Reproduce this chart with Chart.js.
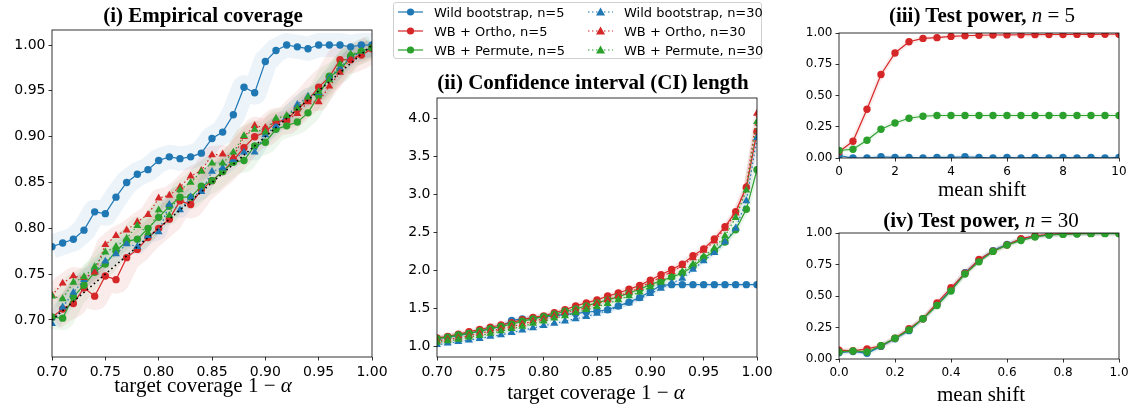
<!DOCTYPE html>
<html>
<head>
<meta charset="utf-8">
<script src="https://cdn.jsdelivr.net/npm/chart.js@4.4.0/dist/chart.umd.min.js"></script>
<style>
  body { margin: 0; background: #fff; }
  #wrap { position: relative; width: 1134px; height: 409px; overflow: hidden; }
  canvas { position: absolute; }
  .ttl { position: absolute; transform: translate(-50%, -50%); white-space: nowrap; color: #000;
         font-family: 'Liberation Serif', 'Times New Roman', serif; font-size: 21px; line-height: 1; }
  .ttl b { font-weight: bold; }
  .ttl i { font-style: italic; }
  #legend { position: absolute; left: 393px; top: 2px; width: 369px; height: 57px; box-sizing: border-box;
            border: 1px solid #d0d0d0; border-radius: 3px; background: rgba(255,255,255,0.85);
            font-family: 'DejaVu Sans', sans-serif; font-size: 13px; color: #000; }
  .lg { position: absolute; height: 18px; display: flex; align-items: center; white-space: nowrap; }
  .lg svg { margin-right: 11px; }
</style>
</head>
<body>
<div id="wrap">
  <canvas id="c1" width="392" height="409" style="left:0;top:0"></canvas>
  <canvas id="c2" width="397" height="409" style="left:380px;top:0"></canvas>
  <canvas id="c3" width="354" height="200" style="left:780px;top:0"></canvas>
  <canvas id="c4" width="354" height="209" style="left:780px;top:200px"></canvas>

  <div class="ttl" style="left:203px;top:15px"><b>(i) Empirical coverage</b></div>
  <div class="ttl" style="left:593px;top:82px"><b>(ii) Confidence interval (CI) length</b></div>
  <div class="ttl" style="left:982px;top:15px"><b>(iii) Test power,</b> <i>n</i> = 5</div>
  <div class="ttl" style="left:981px;top:220px"><b>(iv) Test power,</b> <i>n</i> = 30</div>
  <div class="ttl" style="left:203px;top:385px">target coverage 1 − <i>α</i></div>
  <div class="ttl" style="left:596px;top:392px">target coverage 1 − <i>α</i></div>
  <div class="ttl" style="left:982px;top:189px">mean shift</div>
  <div class="ttl" style="left:981px;top:394px">mean shift</div>
  <div id="legend"></div>
</div>
<script>
// x values (target coverage) shared by panels (i) and (ii)
const coverage = [0.70, 0.71, 0.72, 0.73, 0.74, 0.75, 0.76, 0.77, 0.78, 0.79, 0.80,
                  0.81, 0.82, 0.83, 0.84, 0.85, 0.86, 0.87, 0.88, 0.89, 0.90,
                  0.91, 0.92, 0.93, 0.94, 0.95, 0.96, 0.97, 0.98, 0.99, 1.00];
const coverageTicks = [0.70, 0.75, 0.80, 0.85, 0.90, 0.95, 1.00];

// (i) empirical coverage
const covWild5     = [0.780, 0.784, 0.788, 0.798, 0.818, 0.816, 0.834, 0.850, 0.859, 0.864, 0.874,
                      0.878, 0.876, 0.878, 0.882, 0.898, 0.905, 0.924, 0.954, 0.948, 0.982,
                      0.994, 1.000, 0.998, 0.996, 1.000, 1.000, 1.000, 0.998, 1.000, 1.000];
const covOrtho5    = [0.703, 0.712, 0.718, 0.735, 0.726, 0.748, 0.744, 0.768, 0.777, 0.790, 0.800,
                      0.810, 0.830, 0.826, 0.842, 0.852, 0.862, 0.874, 0.888, 0.900, 0.905,
                      0.916, 0.918, 0.930, 0.940, 0.954, 0.965, 0.984, 0.984, 0.989, 0.996];
const covPermute5  = [0.703, 0.702, 0.725, 0.738, 0.752, 0.761, 0.775, 0.786, 0.788, 0.800, 0.812,
                      0.824, 0.834, 0.834, 0.846, 0.852, 0.862, 0.872, 0.874, 0.890, 0.894,
                      0.908, 0.912, 0.916, 0.926, 0.945, 0.966, 0.972, 0.988, 0.993, 0.997];
const covWild30    = [0.696, 0.714, 0.730, 0.744, 0.753, 0.764, 0.772, 0.783, 0.780, 0.792, 0.796,
                      0.826, 0.820, 0.834, 0.840, 0.862, 0.866, 0.875, 0.883, 0.883, 0.902,
                      0.912, 0.922, 0.935, 0.944, 0.948, 0.964, 0.975, 0.987, 0.992, 0.997];
const covOrtho30   = [0.727, 0.740, 0.748, 0.746, 0.752, 0.782, 0.792, 0.798, 0.807, 0.815, 0.833,
                      0.836, 0.845, 0.857, 0.863, 0.880, 0.881, 0.878, 0.900, 0.912, 0.910,
                      0.917, 0.918, 0.925, 0.938, 0.938, 0.955, 0.970, 0.985, 0.990, 0.997];
const covPermute30 = [0.726, 0.723, 0.741, 0.747, 0.758, 0.774, 0.780, 0.789, 0.803, 0.795, 0.820,
                      0.814, 0.842, 0.850, 0.862, 0.871, 0.871, 0.883, 0.901, 0.908, 0.905,
                      0.920, 0.923, 0.931, 0.943, 0.949, 0.962, 0.979, 0.990, 0.993, 0.997];

// (ii) CI length
const lenTicks     = [1.0, 1.5, 2.0, 2.5, 3.0, 3.5, 4.0];
const lenWild5     = [1.10, 1.12, 1.14, 1.17, 1.20, 1.23, 1.26, 1.34, 1.36, 1.37, 1.39,
                      1.40, 1.42, 1.43, 1.45, 1.46, 1.48, 1.53, 1.58, 1.64, 1.72,
                      1.80, 1.81, 1.81, 1.81, 1.81, 1.81, 1.81, 1.81, 1.81, 1.81];
const lenOrtho5    = [1.11, 1.13, 1.16, 1.19, 1.22, 1.25, 1.28, 1.31, 1.35, 1.38, 1.40,
                      1.44, 1.48, 1.53, 1.57, 1.61, 1.66, 1.70, 1.75, 1.80, 1.87,
                      1.94, 2.01, 2.08, 2.19, 2.28, 2.41, 2.57, 2.77, 3.09, 3.82];
const lenPermute5  = [1.10, 1.12, 1.15, 1.17, 1.20, 1.23, 1.26, 1.29, 1.33, 1.36, 1.39,
                      1.42, 1.46, 1.49, 1.53, 1.57, 1.61, 1.65, 1.70, 1.75, 1.81,
                      1.86, 1.91, 1.96, 2.05, 2.16, 2.25, 2.37, 2.53, 2.80, 3.32];
const lenWild30    = [1.02, 1.04, 1.06, 1.08, 1.10, 1.13, 1.15, 1.18, 1.21, 1.24, 1.27,
                      1.30, 1.33, 1.36, 1.39, 1.43, 1.47, 1.52, 1.57, 1.63, 1.69,
                      1.76, 1.83, 1.89, 2.01, 2.12, 2.23, 2.37, 2.55, 2.91, 3.74];
const lenOrtho30   = [1.07, 1.09, 1.11, 1.14, 1.17, 1.20, 1.23, 1.26, 1.29, 1.33, 1.36,
                      1.40, 1.44, 1.47, 1.51, 1.56, 1.61, 1.66, 1.71, 1.77, 1.84,
                      1.91, 1.98, 2.06, 2.16, 2.26, 2.38, 2.55, 2.75, 3.10, 4.06];
const lenPermute30 = [1.05, 1.07, 1.09, 1.12, 1.14, 1.17, 1.20, 1.23, 1.26, 1.30, 1.33,
                      1.37, 1.40, 1.44, 1.48, 1.52, 1.56, 1.61, 1.66, 1.71, 1.78,
                      1.84, 1.91, 1.98, 2.08, 2.18, 2.29, 2.45, 2.69, 3.05, 3.95];

// (iii) test power, n = 5
const shift5       = [0, 0.5, 1, 1.5, 2, 2.5, 3, 3.5, 4, 4.5, 5, 5.5, 6, 6.5, 7, 7.5, 8, 8.5, 9, 9.5, 10];
const shift5Ticks  = [0, 2, 4, 6, 8, 10];
const powWild5     = [0.02, 0.00, 0.00, 0.01, 0.005, 0.005, 0.00, 0.005, 0.005, 0.01, 0.005,
                      0.00, 0.005, 0.00, 0.005, 0.00, 0.005, 0.00, 0.005, 0.00, 0.005];
const powOrtho5    = [0.05, 0.134, 0.39, 0.668, 0.84, 0.93, 0.957, 0.963, 0.973, 0.978, 0.982,
                      0.984, 0.985, 0.986, 0.987, 0.988, 0.988, 0.989, 0.989, 0.990, 0.990];
const powPermute5  = [0.06, 0.07, 0.142, 0.23, 0.28, 0.318, 0.334, 0.34, 0.34, 0.34, 0.34,
                      0.34, 0.34, 0.34, 0.34, 0.34, 0.34, 0.34, 0.34, 0.34, 0.34];

// (iv) test power, n = 30
const shift30      = [0, 0.05, 0.1, 0.15, 0.2, 0.25, 0.3, 0.35, 0.4, 0.45, 0.5,
                      0.55, 0.6, 0.65, 0.7, 0.75, 0.8, 0.85, 0.9, 0.95, 1.0];
const shift30Ticks = [0, 0.2, 0.4, 0.6, 0.8, 1.0];
const powWild30    = [0.05, 0.06, 0.045, 0.10, 0.16, 0.225, 0.32, 0.43, 0.55, 0.685, 0.785,
                      0.86, 0.91, 0.95, 0.975, 0.985, 0.993, 0.995, 0.997, 0.998, 0.998];
const powOrtho30   = [0.07, 0.065, 0.08, 0.105, 0.165, 0.24, 0.32, 0.445, 0.565, 0.68, 0.79,
                      0.855, 0.905, 0.955, 0.978, 0.99, 0.995, 0.996, 0.997, 0.998, 0.998];
const powPermute30 = [0.056, 0.064, 0.056, 0.106, 0.165, 0.231, 0.319, 0.425, 0.54, 0.675, 0.771,
                      0.854, 0.904, 0.941, 0.968, 0.984, 0.989, 0.992, 0.995, 0.995, 0.995];
const powerTicks   = [0, 0.25, 0.5, 0.75, 1.0];

const BLUE = '#1f77b4', RED = '#d62728', GREEN = '#2ca02c';

const legendItems = [
  { label: 'Wild bootstrap, n=5',  color: BLUE,  n30: false },
  { label: 'WB + Ortho, n=5',      color: RED,   n30: false },
  { label: 'WB + Permute, n=5',    color: GREEN, n30: false },
  { label: 'Wild bootstrap, n=30', color: BLUE,  n30: true },
  { label: 'WB + Ortho, n=30',     color: RED,   n30: true },
  { label: 'WB + Permute, n=30',   color: GREEN, n30: true }
];

function pts(xs, ys) {
  return xs.map((x, i) => ({ x: x, y: ys[i] }));
}

function hexA(hex, a) {
  const n = parseInt(hex.slice(1), 16);
  return 'rgba(' + (n >> 16) + ',' + ((n >> 8) & 255) + ',' + (n & 255) + ',' + a + ')';
}

let orderCounter = 50;
// one line with markers, plus a wide faint stroke behind it for the shaded band
function series(xs, ys, color, n30, bandWidth) {
  const out = [];
  if (bandWidth) {
    out.push({
      data: pts(xs, ys), borderColor: hexA(color, 0.085), borderWidth: bandWidth,
      borderJoinStyle: 'round', borderCapStyle: 'butt', pointRadius: 0, fill: false,
      order: 200, clip: 0
    });
  }
  out.push({
    data: pts(xs, ys), borderColor: color, backgroundColor: color,
    borderWidth: 1.2, borderDash: n30 ? [1.5, 2.5] : [],
    pointStyle: n30 ? 'triangle' : 'circle', pointRadius: n30 ? 4.6 : 3.7,
    pointBorderWidth: 0, pointBorderColor: color, fill: false,
    order: orderCounter--, clip: 0
  });
  return out;
}

const framePlugin = {
  id: 'frame',
  afterDatasetsDraw(chart) {
    const a = chart.chartArea, ctx = chart.ctx;
    ctx.save();
    ctx.strokeStyle = '#000';
    ctx.lineWidth = 0.8;
    ctx.strokeRect(a.left, a.top, a.right - a.left, a.bottom - a.top);
    ctx.restore();
  }
};

function makeChart(id, datasets, o) {
  const axisStyle = (ticks, fmt, isY) => ({
    type: 'linear',
    min: isY ? o.ymin : o.xmin,
    max: isY ? o.ymax : o.xmax,
    afterBuildTicks: s => { s.ticks = ticks.map(v => ({ value: v })); },
    afterFit: s => { if (isY) s.width = o.yw; else s.height = o.xh; },
    grid: { display: true, drawOnChartArea: false, drawTicks: true, tickLength: 3.5,
            tickWidth: 0.8, tickColor: '#000' },
    border: { display: false },
    ticks: {
      autoSkip: false, maxRotation: 0, padding: 3, color: '#000',
      font: { family: 'DejaVu Sans', size: o.fs },
      callback: v => fmt(v)
    }
  });
  return new Chart(document.getElementById(id), {
    type: 'line',
    data: { datasets: datasets },
    options: {
      responsive: false,
      animation: false,
      layout: { padding: o.pad },
      plugins: { legend: { display: false }, tooltip: { enabled: false } },
      scales: {
        x: axisStyle(o.xticks, o.xfmt, false),
        y: axisStyle(o.yticks, o.yfmt, true)
      }
    },
    plugins: [framePlugin]
  });
}

const f2 = v => v.toFixed(2), f1 = v => v.toFixed(1), f0 = v => v.toFixed(0);

// panel (i)
orderCounter = 50;
const ds1 = [].concat(
  series(coverage, covWild5, BLUE, false, 24),
  series(coverage, covOrtho5, RED, false, 28),
  series(coverage, covPermute5, GREEN, false, 24),
  series(coverage, covWild30, BLUE, true, 16),
  series(coverage, covOrtho30, RED, true, 18),
  series(coverage, covPermute30, GREEN, true, 18)
);
ds1.push({
  data: [{ x: 0.70, y: 0.70 }, { x: 1.00, y: 1.00 }], borderColor: '#000', borderWidth: 1.6,
  borderDash: [1.6, 3], pointRadius: 0, fill: false, order: 0, clip: 0
});
makeChart('c1', ds1, {
  xmin: 0.70, xmax: 1.00, ymin: 0.6596, ymax: 1.0164, xticks: coverageTicks, yticks: coverageTicks,
  xfmt: f2, yfmt: f2, yw: 52, xh: 52, fs: 14, pad: { top: 30, right: 20, left: 0, bottom: 0 }
});

// panel (ii)
orderCounter = 50;
const ds2 = [].concat(
  series(coverage, lenWild5, BLUE, false, 6),
  series(coverage, lenOrtho5, RED, false, 6),
  series(coverage, lenPermute5, GREEN, false, 6),
  series(coverage, lenWild30, BLUE, true, 5),
  series(coverage, lenOrtho30, RED, true, 5),
  series(coverage, lenPermute30, GREEN, true, 5)
);
makeChart('c2', ds2, {
  xmin: 0.70, xmax: 1.00, ymin: 0.859, ymax: 4.263, xticks: coverageTicks, yticks: lenTicks,
  xfmt: f2, yfmt: f1, yw: 57, xh: 52, fs: 14, pad: { top: 98, right: 20, left: 0, bottom: 0 }
});

// panel (iii)
orderCounter = 50;
const ds3 = [].concat(
  series(shift5, powWild5, BLUE, false, 5),
  series(shift5, powOrtho5, RED, false, 5),
  series(shift5, powPermute5, GREEN, false, 5)
);
makeChart('c3', ds3, {
  xmin: 0, xmax: 10, ymin: 0, ymax: 1, xticks: shift5Ticks, yticks: powerTicks,
  xfmt: f0, yfmt: f2, yw: 59, xh: 42, fs: 12, pad: { top: 33, right: 15, left: 0, bottom: 0 }
});

// panel (iv)
orderCounter = 50;
const ds4 = [].concat(
  series(shift30, powWild30, BLUE, false, 5),
  series(shift30, powOrtho30, RED, false, 5),
  series(shift30, powPermute30, GREEN, false, 5)
);
makeChart('c4', ds4, {
  xmin: 0, xmax: 1, ymin: 0, ymax: 1, xticks: shift30Ticks, yticks: powerTicks,
  xfmt: f1, yfmt: f2, yw: 59, xh: 50, fs: 12, pad: { top: 33, right: 15, left: 0, bottom: 0 }
});

// legend, two columns of three
const legend = document.getElementById('legend');
legendItems.forEach((it, i) => {
  const col = Math.floor(i / 3), row = i % 3;
  const marker = it.n30
    ? '<polygon points="12.5,0.5 17,8.5 8,8.5" fill="' + it.color + '"/>'
    : '<circle cx="12.5" cy="5" r="3.6" fill="' + it.color + '"/>';
  const dash = it.n30 ? ' stroke-dasharray="1.5 2.5"' : '';
  const el = document.createElement('div');
  el.className = 'lg';
  el.style.left = (col === 0 ? 4 : 194) + 'px';
  el.style.top = (row * 19) + 'px';
  el.innerHTML = '<svg width="25" height="10"><line x1="0" y1="5" x2="25" y2="5" stroke="' + it.color +
    '" stroke-width="1.2"' + dash + '/>' + marker + '</svg><span>' + it.label + '</span>';
  legend.appendChild(el);
});
</script>
</body>
</html>
